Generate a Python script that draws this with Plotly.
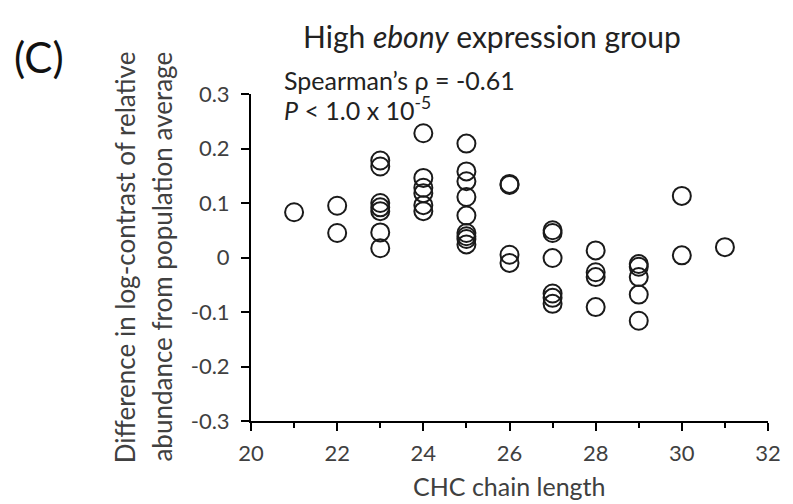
import plotly.graph_objects as go

# ---- data ----
chain_length = [21,
                22, 22,
                23, 23, 23, 23, 23, 23, 23,
                24, 24, 24, 24, 24, 24,
                25, 25, 25, 25, 25, 25, 25, 25, 25,
                26, 26, 26, 26,
                27, 27, 27, 27, 27, 27,
                28, 28, 28, 28,
                29, 29, 29, 29, 29,
                30, 30,
                31]
log_contrast_diff = [0.083,
                     0.095, 0.045,
                     0.178, 0.167, 0.100, 0.092, 0.085, 0.046, 0.017,
                     0.228, 0.146, 0.128, 0.118, 0.096, 0.085,
                     0.209, 0.158, 0.140, 0.111, 0.077, 0.045, 0.039, 0.034, 0.024,
                     0.135, 0.133, 0.005, -0.010,
                     0.050, 0.045, -0.001, -0.066, -0.074, -0.085,
                     0.013, -0.027, -0.036, -0.091,
                     -0.012, -0.017, -0.036, -0.068, -0.116,
                     0.113, 0.004,
                     0.019]

x_tickvals = [20, 22, 24, 26, 28, 30, 32]
x_ticktext = ["20", "22", "24", "26", "28", "30", "32"]
y_tickvals = [0.3, 0.2, 0.1, 0, -0.1, -0.2, -0.3]
y_ticktext = ["0.3", "0.2", "0.1", "0", "-0.1", "-0.2", "-0.3"]

FONT = "Lato"
TXT = "#404040"

# plot area in pixels
W, H = 793, 504
L, R, T, B = 251, 777, 94, 421


def px(xp):
    return (xp - L) / (R - L)


def py(yp):
    return (B - yp) / (B - T)


fig = go.Figure()
fig.add_trace(go.Scatter(
    x=chain_length, y=log_contrast_diff, mode="markers",
    marker=dict(symbol="circle-open", size=18, color="#1a1a1a",
                line=dict(width=2, color="#1a1a1a")),
    showlegend=False, hoverinfo="x+y"))

fig.update_layout(
    width=W, height=H,
    margin=dict(l=L, r=W - R, t=T, b=H - B, pad=0),
    paper_bgcolor="white", plot_bgcolor="white",
    font=dict(family=FONT, color=TXT),
    xaxis=dict(range=[20, 32], tickvals=x_tickvals, ticktext=x_ticktext,
               ticks="outside", ticklen=8, tickwidth=2, tickcolor="black",
               minor=dict(dtick=1, tick0=20, ticks="outside", ticklen=5, tickwidth=2, tickcolor="black"),
               showline=True, linecolor="black", linewidth=2, showgrid=False,
               zeroline=False, ticklabelstandoff=4,
               tickfont=dict(size=22, color=TXT, family=FONT)),
    yaxis=dict(range=[-0.3, 0.3], tickvals=y_tickvals, ticktext=y_ticktext,
               ticks="outside", ticklen=8, tickwidth=2, tickcolor="black",
               showline=True, linecolor="black", linewidth=2, showgrid=False,
               zeroline=False, ticklabelstandoff=7,
               tickfont=dict(size=22, color=TXT, family=FONT)),
)

ann = [
    dict(text="High <i>ebony</i> expression group", x=px(496), y=py(36),
         font=dict(size=30, color="#222222")),
    dict(text="(C)", x=px(35), y=py(57), font=dict(size=42, color="#111111")),
    dict(text="Spearman’s ρ = -0.61", x=px(283), y=py(80), xanchor="left",
         font=dict(size=25, color="#222222")),
    dict(text="<i>P</i> < 1.0 x 10<sup>-5</sup>", x=px(283), y=py(108), xanchor="left",
         font=dict(size=25, color="#222222")),
    dict(text="CHC chain length", x=px(514), y=py(486), font=dict(size=25, color=TXT)),
    dict(text="Difference in log-contrast of relative",
         x=px(123), y=py(257), textangle=-90, font=dict(size=26, color=TXT)),
    dict(text="abundance from population average",
         x=px(160), y=py(257), textangle=-90, font=dict(size=26, color=TXT)),
]
for a in ann:
    a.setdefault("xanchor", "center")
    a.update(xref="paper", yref="paper", yanchor="middle", showarrow=False)
    fig.add_annotation(**a)

fig.write_html("out.html")
